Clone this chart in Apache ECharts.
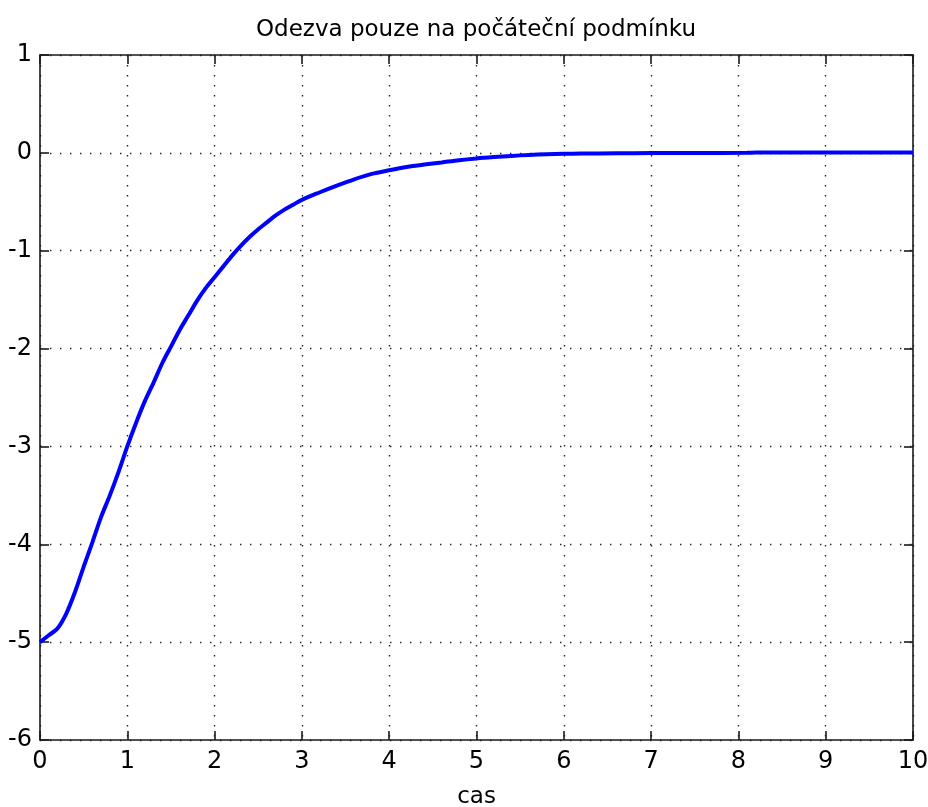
<!DOCTYPE html>
<html>
<head>
<meta charset="utf-8">
<title>Odezva pouze na počáteční podmínku</title>
<script src="https://cdn.jsdelivr.net/npm/echarts@6/dist/echarts.min.js"></script>
<style>
  html, body { margin: 0; padding: 0; background: #ffffff; }
  #chart { width: 928px; height: 807px; }
</style>
</head>
<body>
<div id="chart"></div>
<script>
// Time samples (s) and the free response from the initial condition
const timeValues = [
  0, 0.1, 0.2, 0.3, 0.4, 0.5, 0.6, 0.7, 0.8, 0.9,
  1.0, 1.1, 1.2, 1.3, 1.4, 1.5, 1.6, 1.7, 1.8, 1.9,
  2.0, 2.1, 2.2, 2.3, 2.4, 2.5, 2.6, 2.7, 2.8, 2.9,
  3.0, 3.2, 3.4, 3.6, 3.8, 4.0, 4.2, 4.4, 4.6, 4.8,
  5.0, 5.2, 5.4, 5.6, 5.8, 6.0, 6.2, 6.6, 7.0, 7.5,
  8.1, 8.2, 9.0, 10.0
];
const responseValues = [
  -5.00, -4.93, -4.86, -4.71, -4.49, -4.23, -3.98, -3.72, -3.50, -3.26,
  -3.00, -2.76, -2.54, -2.35, -2.15, -1.98, -1.81, -1.66, -1.51, -1.38,
  -1.27, -1.16, -1.05, -0.95, -0.86, -0.78, -0.71, -0.64, -0.58, -0.53,
  -0.48, -0.405, -0.335, -0.27, -0.215, -0.178, -0.145, -0.12, -0.098, -0.075,
  -0.057, -0.043, -0.031, -0.021, -0.014, -0.010, -0.007, -0.004, -0.002, -0.001,
  0.000, 0.004, 0.004, 0.003
];

// Axis ranges and tick spacing
const xRange = [0, 10];
const yRange = [-6, 1];
const tickStep = 1;

const titleText = 'Odezva pouze na počáteční podmínku';
const xAxisName = 'cas';

const FONT = 'DejaVu Sans';
const AXIS_COLOR = '#1a1a1a';

const points = timeValues.map((t, i) => [t, responseValues[i]]);

const dottedGrid = {
  show: true,
  lineStyle: { color: '#222222', width: 1.4, type: [1.4, 8.6] }
};

const boxAxis = {
  axisLine: { show: true, onZero: false, lineStyle: { color: AXIS_COLOR, width: 1.6 } },
  axisTick: { show: true, inside: true, length: 9, lineStyle: { color: AXIS_COLOR, width: 1.6 } }
};

const chart = echarts.init(document.getElementById('chart'), null, { renderer: 'canvas' });

chart.setOption({
  animation: false,
  backgroundColor: '#ffffff',
  title: {
    text: titleText,
    left: 251,
    top: 14,
    textStyle: { fontFamily: FONT, fontSize: 23, fontWeight: 'normal', color: '#000000' }
  },
  grid: { left: 40, right: 15, top: 55, bottom: 67, containLabel: false, outerBoundsMode: 'none' },
  xAxis: [
    Object.assign({
      type: 'value',
      position: 'bottom',
      min: xRange[0], max: xRange[1], interval: tickStep,
      name: xAxisName,
      nameLocation: 'middle',
      nameGap: 46,
      nameTextStyle: { fontFamily: FONT, fontSize: 23, color: '#000000' },
      axisLabel: { fontFamily: FONT, fontSize: 24, color: '#000000', margin: 10 },
      splitLine: dottedGrid
    }, boxAxis),
    Object.assign({
      type: 'value',
      position: 'top',
      min: xRange[0], max: xRange[1], interval: tickStep,
      axisLabel: { show: false },
      splitLine: { show: false }
    }, boxAxis)
  ],
  yAxis: [
    Object.assign({
      type: 'value',
      position: 'left',
      min: yRange[0], max: yRange[1], interval: tickStep,
      axisLabel: { fontFamily: FONT, fontSize: 24, color: '#000000', margin: 8 },
      splitLine: dottedGrid
    }, boxAxis),
    Object.assign({
      type: 'value',
      position: 'right',
      min: yRange[0], max: yRange[1], interval: tickStep,
      axisLabel: { show: false },
      splitLine: { show: false }
    }, boxAxis)
  ],
  series: [{
    type: 'line',
    xAxisIndex: 0,
    yAxisIndex: 0,
    data: points,
    showSymbol: false,
    smooth: 0.3,
    lineStyle: { color: '#0000ff', width: 4 },
    z: 5
  }]
});
</script>
</body>
</html>
